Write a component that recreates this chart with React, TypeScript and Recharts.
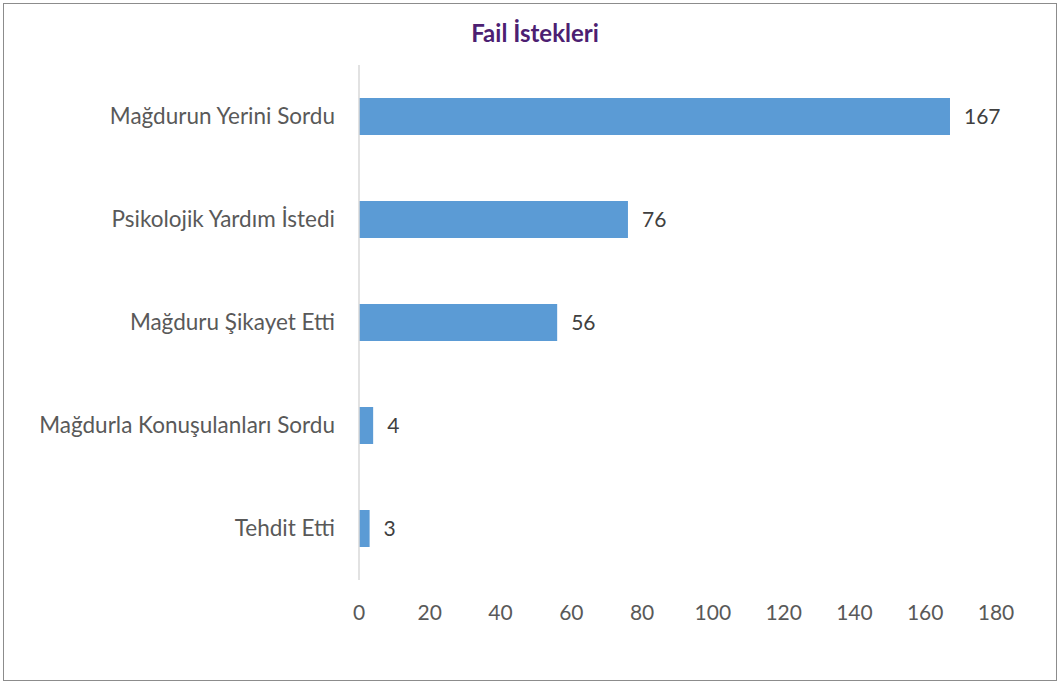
import React from 'react';
import { BarChart, Bar, XAxis, YAxis, LabelList } from 'recharts';

const categories = [
  'Mağdurun Yerini Sordu',
  'Psikolojik Yardım İstedi',
  'Mağduru Şikayet Etti',
  'Mağdurla Konuşulanları Sordu',
  'Tehdit Etti',
];
const values = [167, 76, 56, 4, 3];
const xTicks = [0, 20, 40, 60, 80, 100, 120, 140, 160, 180];

const data = categories.map((name, i) => ({ name, value: values[i] }));

export default function App() {
  return (
    <div style={{ position: 'absolute', left: 0, top: 0, width: 1059, height: 684, background: '#fff' }}>
      <div style={{ position: 'absolute', left: 3, top: 3, width: 1052, height: 676, border: '1px solid #8c8c8c' }} />
      <div style={{ position: 'absolute', left: 0, top: 20, width: 1070, textAlign: 'center', fontFamily: 'Lato', fontWeight: 700, fontSize: 24, lineHeight: '26px', color: '#4d1f72' }}>
        Fail İstekleri
      </div>
      <div style={{ position: 'absolute', left: 0, top: 0 }}>
        <BarChart
          width={1059}
          height={684}
          data={data}
          layout="vertical"
          margin={{ top: 65, right: 63, bottom: 64, left: 0 }}
        >
          <XAxis
            type="number"
            domain={[0, 180]}
            ticks={xTicks}
            axisLine={false}
            tickLine={false}
            tickSize={0}
            tickMargin={25}
            height={40}
            interval={0}
            tick={{ fill: '#595959', fontSize: 21, fontFamily: 'Lato' }}
          />
          <YAxis
            type="category"
            dataKey="name"
            width={359}
            axisLine={{ stroke: '#d9d9d9', strokeWidth: 1.5 }}
            tickLine={false}
            tickSize={0}
            tickMargin={24}
            interval={0}
            tick={{ fill: '#595959', fontSize: 22.5, fontFamily: 'Lato' }}
          />
          <Bar dataKey="value" fill="#5b9bd5" barSize={37} isAnimationActive={false}>
            <LabelList dataKey="value" position="right" offset={14} style={{ fill: '#404040', fontSize: 21, fontFamily: 'Lato' }} />
          </Bar>
        </BarChart>
      </div>
    </div>
  );
}
